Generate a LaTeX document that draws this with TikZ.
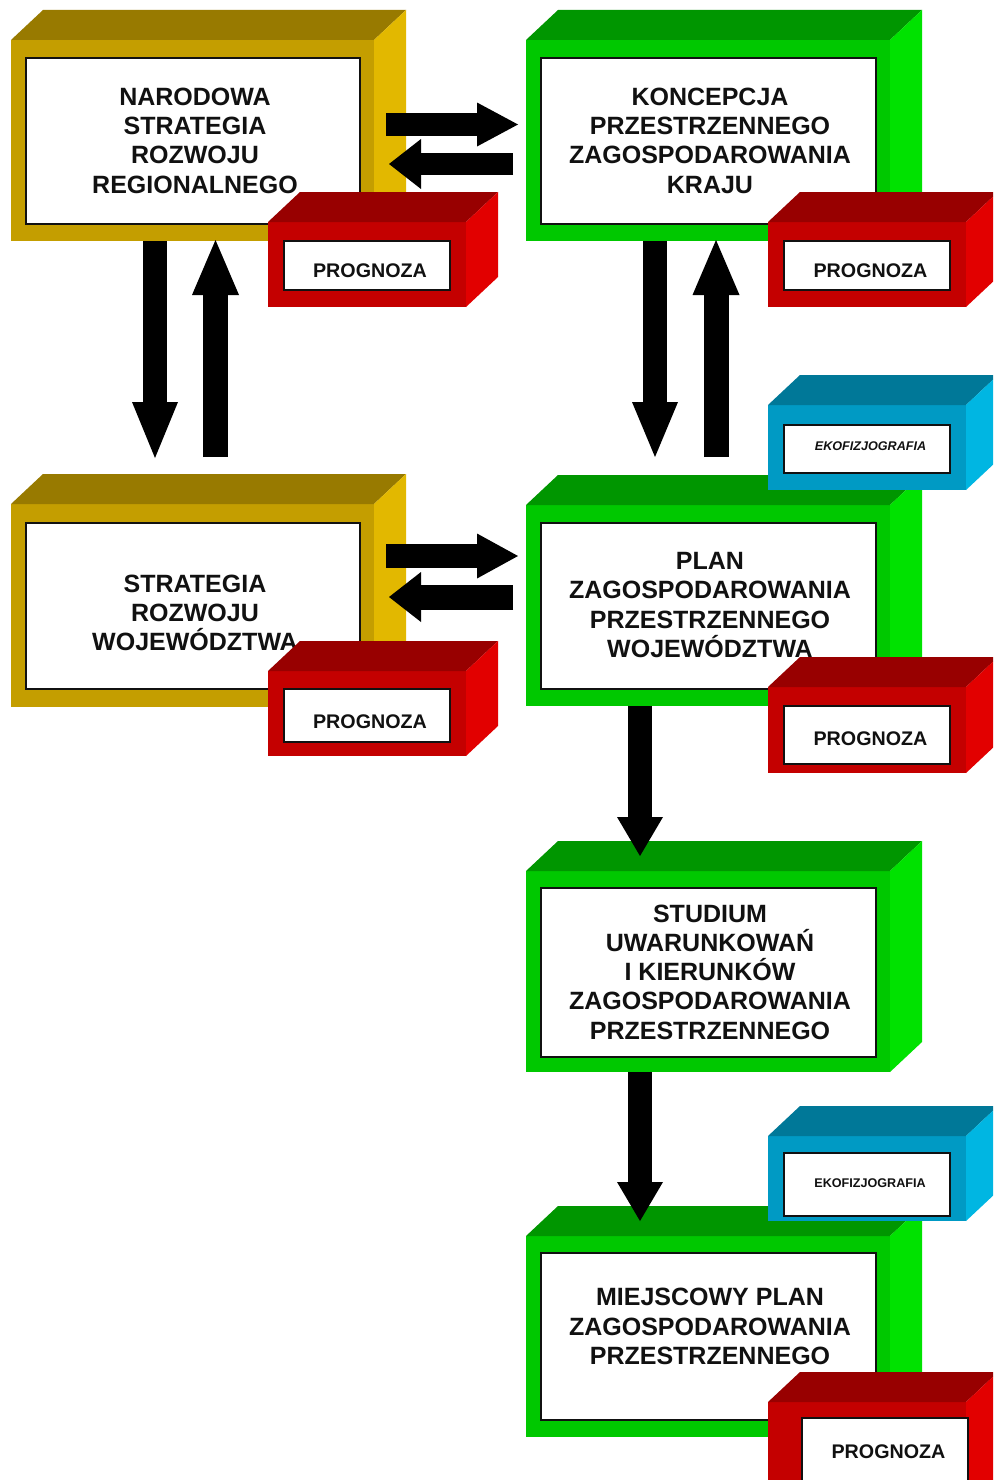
\documentclass[tikz,border=0pt]{standalone}
\usepackage{fontspec}
\setmainfont{Liberation Sans}
\usetikzlibrary{arrows.meta}
\definecolor{goldF}{RGB}{196,158,0}
\definecolor{goldT}{RGB}{152,122,0}
\definecolor{goldS}{RGB}{226,184,0}
\definecolor{grnF}{RGB}{0,200,0}
\definecolor{grnT}{RGB}{0,150,0}
\definecolor{grnS}{RGB}{0,226,0}
\definecolor{redF}{RGB}{196,0,0}
\definecolor{redT}{RGB}{152,0,0}
\definecolor{redS}{RGB}{226,0,0}
\definecolor{bluF}{RGB}{0,154,196}
\definecolor{bluT}{RGB}{0,120,152}
\definecolor{bluS}{RGB}{0,182,226}
\definecolor{ink}{RGB}{17,17,17}
% x1,y1,x2,y2,colour prefix
\newcommand{\mycuboid}[5]{%
  \fill[#5F] (#1,#2) rectangle (#3,#4);
  \fill[#5T] (#1,#2) -- (#1+32,#2-30) -- (#3+32,#2-30) -- (#3,#2) -- cycle;
  \fill[#5S] (#3,#2) -- (#3+32,#2-30) -- (#3+32,#4-30) -- (#3,#4) -- cycle;
}
\tikzset{
  innerwhite/.style={fill=white,draw=ink,line width=1.6pt},
  bigtext/.style={font=\fontsize{25}{29.3}\selectfont\bfseries,align=center,inner sep=0pt,text=ink},
  smalltext/.style={font=\fontsize{19.7}{22}\selectfont\bfseries,inner sep=0pt,text=ink,anchor=base},
  tinytext/.style={font=\fontsize{12.6}{14}\selectfont\bfseries,inner sep=0pt,text=ink,anchor=base},
  blockarrow/.style n args={3}{draw=black,line width=#1,arrows={-Triangle[width=#2,length=#3,line width=0pt]}}
}
\begin{document}
\begin{tikzpicture}[x=1pt,y=-1pt]
\clip (0,0) rectangle (993,1480);
\fill[white] (0,0) rectangle (993,1480);

% ---------- main boxes ----------
\mycuboid{11}{40}{374}{241}{gold}
\draw[innerwhite] (26,58) rectangle (360,224);
\node[bigtext] (t1) at (195,140.5) {NARODOWA\\STRATEGIA\\ROZWOJU\\REGIONALNEGO};

\mycuboid{526}{40}{890}{241}{grn}
\draw[innerwhite] (541,58) rectangle (876,224);
\node[bigtext] (t2) at (710,140.5) {KONCEPCJA\\PRZESTRZENNEGO\\ZAGOSPODAROWANIA\\KRAJU};

\mycuboid{11}{504}{374}{707}{gold}
\draw[innerwhite] (26,523) rectangle (360,689);
\node[bigtext] (t3) at (195,613) {STRATEGIA\\ROZWOJU\\WOJEWÓDZTWA};

\mycuboid{526}{505}{890}{706}{grn}
\draw[innerwhite] (541,523) rectangle (876,689);
\node[bigtext] (t4) at (710,605) {PLAN\\ZAGOSPODAROWANIA\\PRZESTRZENNEGO\\WOJEWÓDZTWA};

\mycuboid{526}{871}{890}{1072}{grn}
\draw[innerwhite] (541,888) rectangle (876,1057);
\node[bigtext] (t5) at (710,972) {STUDIUM\\UWARUNKOWAŃ\\I KIERUNKÓW\\ZAGOSPODAROWANIA\\PRZESTRZENNEGO};

\mycuboid{526}{1236}{890}{1437}{grn}
\draw[innerwhite] (541,1253) rectangle (876,1420);
\node[bigtext] (t6) at (710,1326.5) {MIEJSCOWY PLAN\\ZAGOSPODAROWANIA\\PRZESTRZENNEGO};

% ---------- arrows ----------
\coordinate (a1s) at (386,124.5);  \coordinate (a1e) at (518,124.5);
\coordinate (a2s) at (513,164);    \coordinate (a2e) at (389,164);
\coordinate (a3s) at (155,241);    \coordinate (a3e) at (155,458);
\coordinate (a4s) at (215.5,457);  \coordinate (a4e) at (215.5,240);
\coordinate (a5s) at (386,556);    \coordinate (a5e) at (518,556);
\coordinate (a6s) at (513,597);    \coordinate (a6e) at (389,597);
\coordinate (a7s) at (655,241);    \coordinate (a7e) at (655,457);
\coordinate (a8s) at (716,457);    \coordinate (a8e) at (716,240);
\coordinate (a9s) at (640,706);    \coordinate (a9e) at (640,856);
\coordinate (a10s) at (640,1072);  \coordinate (a10e) at (640,1221);
\draw[blockarrow={23pt}{44pt}{41pt}] (a1s) -- (a1e);
\draw[blockarrow={22pt}{50pt}{32pt}] (a2s) -- (a2e);
\draw[blockarrow={24pt}{46pt}{56pt}] (a3s) -- (a3e);
\draw[blockarrow={25pt}{47pt}{55pt}] (a4s) -- (a4e);
\draw[blockarrow={24pt}{45pt}{41pt}] (a5s) -- (a5e);
\draw[blockarrow={25pt}{50pt}{32pt}] (a6s) -- (a6e);
\draw[blockarrow={24pt}{46pt}{55pt}] (a7s) -- (a7e);
\draw[blockarrow={25pt}{47pt}{55pt}] (a8s) -- (a8e);
\draw[blockarrow={24pt}{46pt}{39pt}] (a9s) -- (a9e);
\draw[blockarrow={24pt}{46pt}{39pt}] (a10s) -- (a10e);

% ---------- small boxes ----------
\mycuboid{268}{222}{466}{307}{red}
\draw[innerwhite] (284,241) rectangle (450,290);
\node[smalltext] (p1) at (370,277) {PROGNOZA};

\mycuboid{768}{222}{966}{307}{red}
\draw[innerwhite] (784,241) rectangle (950,290);
\node[smalltext] (p2) at (870.5,277) {PROGNOZA};

\mycuboid{268}{671}{466}{756}{red}
\draw[innerwhite] (284,689) rectangle (450,742);
\node[smalltext] (p3) at (370,728) {PROGNOZA};

\mycuboid{768}{405}{966}{490}{blu}
\draw[innerwhite] (784,425) rectangle (950,473);
\node[tinytext,font=\fontsize{12.6}{14}\selectfont\bfseries\itshape] (e1) at (870.5,450) {EKOFIZJOGRAFIA};

\mycuboid{768}{687}{966}{773}{red}
\draw[innerwhite] (784,706) rectangle (950,764);
\node[smalltext] (p4) at (870.5,745) {PROGNOZA};

\mycuboid{768}{1136}{966}{1221}{blu}
\draw[innerwhite] (784,1153) rectangle (950,1216);
\node[tinytext] (e2) at (870,1187) {EKOFIZJOGRAFIA};

\mycuboid{768}{1402}{966}{1520}{red}
\draw[innerwhite] (802,1418) rectangle (968,1520);
\node[smalltext] (p6) at (888.5,1458) {PROGNOZA};
\end{tikzpicture}
\end{document}
